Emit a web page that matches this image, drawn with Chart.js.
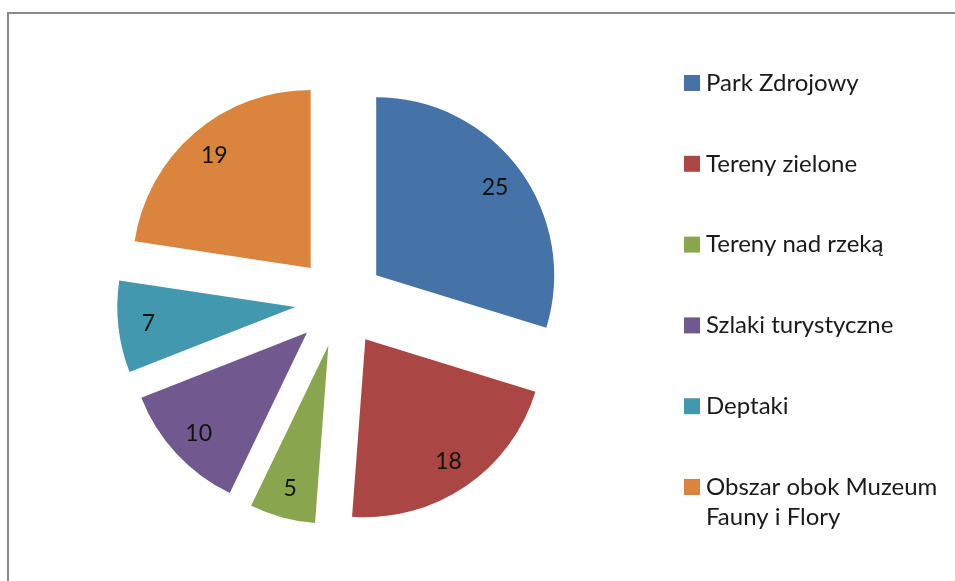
<!DOCTYPE html>
<html>
<head>
<meta charset="utf-8">
<script src="https://cdn.jsdelivr.net/npm/chart.js@4/dist/chart.umd.min.js"></script>
<style>
  html, body { margin: 0; padding: 0; background: #fff; }
  #wrap { width: 955px; height: 581px; position: relative; }
</style>
</head>
<body>
<div id="wrap"><canvas id="pie"></canvas></div>
<script>
// dane z wykresu
const categories = ['Park Zdrojowy', 'Tereny zielone', 'Tereny nad rzeką', 'Szlaki turystyczne', 'Deptaki', 'Obszar obok Muzeum Fauny i Flory'];
const legendLines = [['Park Zdrojowy'], ['Tereny zielone'], ['Tereny nad rzeką'], ['Szlaki turystyczne'], ['Deptaki'], ['Obszar obok Muzeum', 'Fauny i Flory']];
const values = [25, 18, 5, 10, 7, 19];
const colors = ['#4572A7', '#AA4643', '#89A54E', '#71588F', '#4198AF', '#DB843D'];

const FONT = 'Lato, "Noto Sans", sans-serif';
const EXPLODE = 45; // wysuniecie kazdego wycinka w px (jak w Excelu, rowno dla wszystkich)

// offset w chart.js powieksza tez male wycinki, wiec przesuwamy srodki lukow sami
const explode = {
  id: 'explode',
  afterDatasetsUpdate(chart) {
    const a = chart.chartArea;
    const cx = (a.left + a.right) / 2;
    const cy = (a.top + a.bottom) / 2;
    chart.getDatasetMeta(0).data.forEach(arc => {
      const mid = (arc.startAngle + arc.endAngle) / 2;
      arc.x = cx + Math.cos(mid) * EXPLODE;
      arc.y = cy + Math.sin(mid) * EXPLODE;
    });
  }
};

// ramka, etykiety wartosci i legenda
const extras = {
  id: 'extras',
  afterDraw(chart) {
    const ctx = chart.ctx;
    ctx.save();

    // ramka wykresu (prawa i dolna krawedz poza kadrem)
    ctx.strokeStyle = '#888888';
    ctx.lineWidth = 2;
    ctx.beginPath();
    ctx.moveTo(8, 600);
    ctx.lineTo(8, 13);
    ctx.lineTo(970, 13);
    ctx.stroke();

    // wartosci na wycinkach
    const meta = chart.getDatasetMeta(0);
    ctx.fillStyle = '#111';
    ctx.font = '23px ' + FONT;
    ctx.textAlign = 'center';
    ctx.textBaseline = 'middle';
    meta.data.forEach((arc, i) => {
      const mid = (arc.startAngle + arc.endAngle) / 2;
      const d = arc.outerRadius * 0.83;
      ctx.fillText(String(values[i]), arc.x + Math.cos(mid) * d, arc.y + Math.sin(mid) * d);
    });

    // legenda
    ctx.textAlign = 'left';
    ctx.font = '24px ' + FONT;
    legendLines.forEach((lines, i) => {
      const y = 83 + i * 80.8;
      ctx.fillStyle = colors[i];
      ctx.fillRect(684, y - 8, 16, 16);
      ctx.fillStyle = '#1a1a1a';
      lines.forEach((t, j) => ctx.fillText(t, 706, y + j * 30));
    });

    ctx.restore();
  }
};

new Chart(document.getElementById('pie'), {
  type: 'pie',
  data: {
    labels: categories,
    datasets: [{
      data: values,
      backgroundColor: colors,
      borderWidth: 0,
      hoverOffset: 0
    }]
  },
  options: {
    responsive: true,
    maintainAspectRatio: false,
    animation: false,
    events: [],
    layout: { padding: { left: 162, top: 124, right: 437, bottom: 101 } },
    plugins: {
      legend: { display: false },
      tooltip: { enabled: false }
    }
  },
  plugins: [explode, extras]
});
</script>
</body>
</html>
